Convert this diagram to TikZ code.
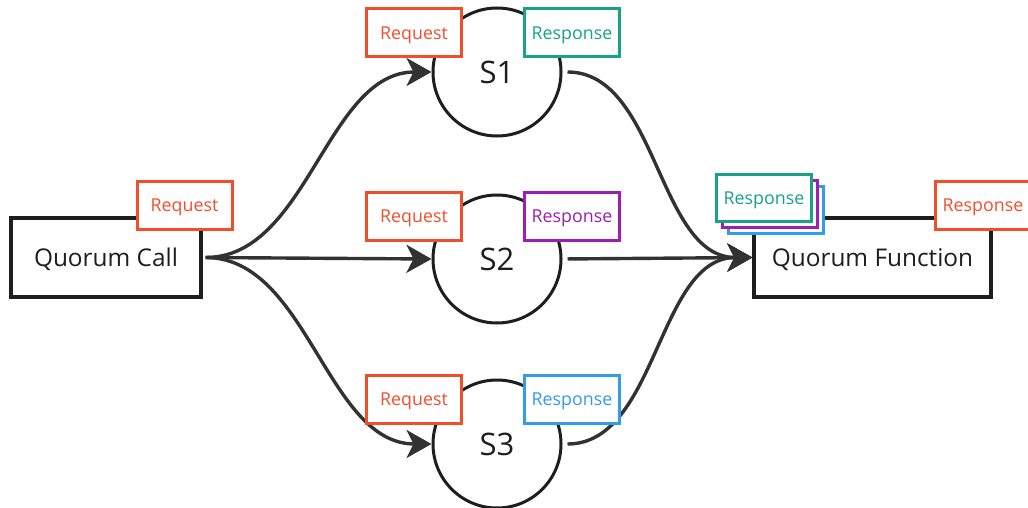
\documentclass[tikz,border=0pt]{standalone}
\usepackage{fontspec}
\setmainfont{Open Sans}
\usetikzlibrary{arrows.meta}
\definecolor{reqred}{RGB}{242,78,44}
\definecolor{resgreen}{RGB}{22,163,136}
\definecolor{respurple}{RGB}{156,30,178}
\definecolor{resblue}{RGB}{50,155,235}
\definecolor{ink}{RGB}{30,30,30}
\definecolor{wire}{RGB}{50,50,50}
\tikzset{
  mainbox/.style={draw=ink, line width=3.2pt, fill=white, text=ink,
    minimum width=#1, minimum height=79pt, inner sep=0pt,
    text height=17.4pt, text depth=0pt, font=\fontsize{24.4}{28}\selectfont},
  server/.style={draw=ink, line width=3pt, circle, fill=white, text=ink,
    minimum size=128pt, inner sep=0pt,
    text height=22.1pt, text depth=0pt, font=\fontsize{31}{36}\selectfont},
  tag/.style={draw=#1, text=#1, line width=3pt, fill=white, minimum width=95pt,
    minimum height=48pt, inner sep=0pt,
    text height=12.7pt, text depth=0pt, font=\fontsize{17.8}{21}\selectfont},
  conn/.style={draw=wire, line width=3.4pt,
    -{Stealth[length=25pt,width=28pt,inset=7pt]}},
}
\begin{document}
\begin{tikzpicture}[x=1pt,y=-1pt]
\useasboundingbox (0,0) rectangle (1028,508);
\clip (0,0) rectangle (1028,508);

% main boxes and servers
\node[mainbox=190pt] (qc) at (106,257.5) {Quorum Call};
\node[mainbox=237pt] (qf) at (872.5,257.5) {Quorum Function};
\node[server] (s1) at (497,72) {S1};
\node[server] (s2) at (497,259) {S2};
\node[server] (s3) at (497,444) {S3};

% connectors
\draw[conn, shorten <=3pt] (qc.east) .. controls +(105,0) and +(-105,0) .. (s1.west);
\draw[conn, shorten <=3pt] (qc.east) -- (s2.west);
\draw[conn, shorten <=3pt] (qc.east) .. controls +(105,0) and +(-105,0) .. (s3.west);
\draw[conn, shorten <=5pt] (s1.east) .. controls +(95,0) and +(-95,0) .. (qf.west);
\draw[conn, shorten <=5pt] (s2.east) -- (qf.west);
\draw[conn, shorten <=5pt] (s3.east) .. controls +(95,0) and +(-95,0) .. (qf.west);

% message tags
\node[tag=reqred] (qcreq) at (184.5,205) {Request};
\node[tag=reqred] (req1) at (414,33) {Request};
\node[tag=reqred] (req2) at (414,216) {Request};
\node[tag=reqred] (req3) at (414,399) {Request};
\node[tag=resgreen] (res1) at (572,33) {Response};
\node[tag=respurple] (res2) at (572,216) {Response};
\node[tag=resblue] (res3) at (572,399) {Response};

% collected responses
\node[tag=resblue, minimum height=47pt] (stack3) at (776,210) {};
\node[tag=respurple, minimum height=47pt] (stack2) at (770,204) {};
\node[tag=resgreen, minimum height=47pt] (stack1) at (764,198) {Response};
\node[tag=reqred] (qfres) at (983,205) {Response};
\end{tikzpicture}
\end{document}
